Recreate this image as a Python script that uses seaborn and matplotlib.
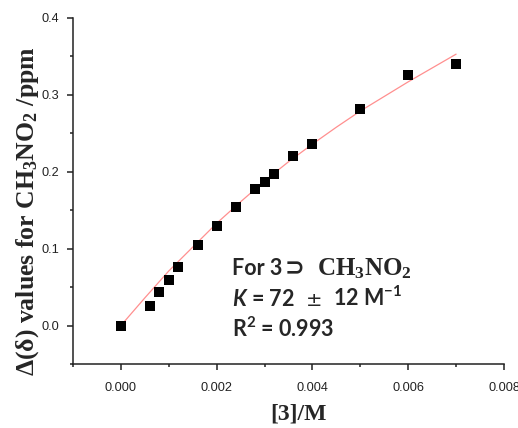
import numpy as np
import pandas as pd
import seaborn as sns
import matplotlib.pyplot as plt
from matplotlib.ticker import MultipleLocator

# data
conc = [0.0, 0.0006, 0.0008, 0.0010, 0.0012, 0.0016, 0.0020, 0.0024,
        0.0028, 0.0030, 0.0032, 0.0036, 0.0040, 0.0050, 0.0060, 0.0070]
shift = [0.0, 0.026, 0.043, 0.059, 0.076, 0.105, 0.130, 0.154,
         0.177, 0.187, 0.197, 0.220, 0.236, 0.281, 0.326, 0.340]

# fitted 1:1 isotherm
fit_x = [0.0, 0.0005, 0.001, 0.0015, 0.002, 0.0025, 0.003, 0.0035,
         0.004, 0.0045, 0.005, 0.0055, 0.006, 0.0065, 0.007]
fit_y = [0.0, 0.036, 0.071, 0.102, 0.133, 0.161, 0.188, 0.213,
         0.236, 0.258, 0.279, 0.298, 0.317, 0.335, 0.353]

pts = pd.DataFrame({'conc': conc, 'shift': shift})
fit = pd.DataFrame({'conc': fit_x, 'shift': fit_y})

sns.set_style('ticks')
plt.rcParams['font.family'] = ['Liberation Sans', 'DejaVu Sans']
plt.rcParams['mathtext.fontset'] = 'custom'
plt.rcParams['mathtext.rm'] = 'Liberation Serif:bold'
plt.rcParams['mathtext.sf'] = 'Lato:bold'
plt.rcParams['mathtext.it'] = 'Lato:bold:italic'

W, H = 518, 428
fig = plt.figure(figsize=(W / 100, H / 100), dpi=100)
ax = fig.add_axes([73/W, 64/H, 431/W, 346/H])

sns.lineplot(data=fit, x='conc', y='shift', ax=ax, color='#ff8f8f', lw=0.9)
sns.scatterplot(data=pts, x='conc', y='shift', ax=ax, marker='s', s=44,
                color='black', edgecolor='black', linewidth=0, zorder=3)

ax.set_xlim(-0.001, 0.008)
ax.set_ylim(-0.05, 0.4)
ax.xaxis.set_major_locator(MultipleLocator(0.002))
ax.xaxis.set_minor_locator(MultipleLocator(0.001))
ax.yaxis.set_major_locator(MultipleLocator(0.1))
ax.yaxis.set_minor_locator(MultipleLocator(0.05))
ax.xaxis.set_major_formatter(plt.FormatStrFormatter('%.3f'))
ax.yaxis.set_major_formatter(plt.FormatStrFormatter('%.1f'))
sns.despine(ax=ax)
for s in ['left', 'bottom']:
    ax.spines[s].set_linewidth(1.1)
    ax.spines[s].set_color('#222222')
ax.tick_params(which='major', length=4, width=1.1, labelsize=9.2,
               colors='#222222', pad=6)
ax.tick_params(which='minor', length=2.5, width=1.1, colors='#222222')
ax.tick_params(axis='x', pad=9)

ax.set_xlabel('[3]/M', family='Liberation Serif', fontweight='bold',
              fontsize=17)
ax.xaxis.set_label_coords(0.522, -0.113)
ax.set_ylabel(r'Δ(δ) values for $\mathrm{CH_3NO_2}$ /ppm',
              family='Liberation Serif', fontweight='bold', fontsize=18.5)
ax.yaxis.set_label_coords(-0.074, 0.442)

renderer = fig.canvas.get_renderer()


def put(x, y, s, **kw):
    t = fig.text(x / W, 1 - y / H, s, va='baseline', **kw)
    return t.get_window_extent(renderer).x1


lato = dict(family=['Lato', 'DejaVu Sans'], fontweight='bold', fontsize=15.5)

# line 1
x1 = put(232, 275, 'For 3', **lato)
x2 = put(x1 + 2, 275, '⊃', family='DejaVu Sans', fontweight='bold', fontsize=17)
put(max(x2 + 7, 317), 275, r'$\mathrm{CH_3NO_2}$', fontsize=18)
# line 2
x1 = put(232, 306, r'$\mathit{K}$ = 72', **lato)
x2 = put(x1 + 11, 306, '±', family='DejaVu Sans', fontweight='normal', fontsize=14)
put(x2 + 11, 306, r'12 M$^{\mathsf{-1}}$', **lato)
# line 3
put(232, 337, r'R$^{\mathsf{2}}$ = 0.993', **lato)

fig.savefig('out.png', dpi=100)
